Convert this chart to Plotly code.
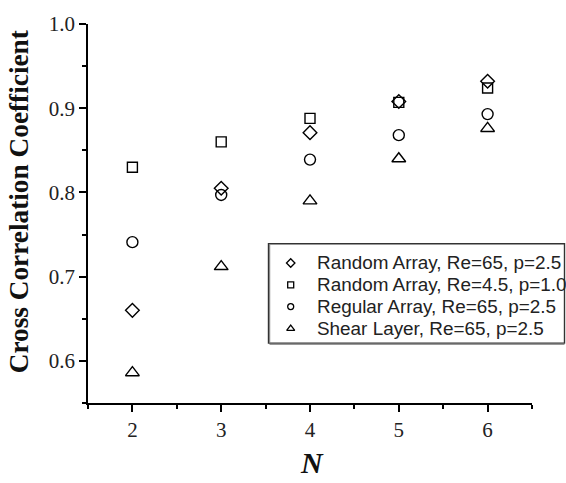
import plotly.graph_objects as go

# Number of sensors N and the cross correlation coefficient for each configuration
n_values = [2, 3, 4, 5, 6]
random_re65 = [0.660, 0.805, 0.871, 0.908, 0.932]
random_re45 = [0.830, 0.860, 0.888, 0.907, 0.924]
regular_re65 = [0.741, 0.797, 0.839, 0.868, 0.893]
shear_re65 = [0.586, 0.712, 0.790, 0.840, 0.876]

series_names = [
    "Random Array, Re=65, p=2.5",
    "Random Array, Re=4.5, p=1.0",
    "Regular Array, Re=65, p=2.5",
    "Shear Layer, Re=65, p=2.5",
]
series_values = [random_re65, random_re45, regular_re65, shear_re65]
symbols = ["diamond-open", "square-open", "circle-open", "triangle-up-open"]
plot_sizes = [10.5, 10, 11, 12]
legend_sizes = [6.5, 6, 6, 7]

serif = "Liberation Serif, Times New Roman, serif"
sans = "Liberation Sans, Arial, Helvetica, sans-serif"

W, H = 566, 483
ML, MR, MT, MB = 88, 34, 14, 80
PW, PH = W - ML - MR, H - MT - MB


def px(x):
    """Pixel column -> paper x."""
    return (x - ML) / PW


def py(y):
    """Pixel row -> paper y."""
    return (H - MB - y) / PH


fig = go.Figure()

for name, vals, sym, size in zip(series_names, series_values, symbols, plot_sizes):
    fig.add_trace(go.Scatter(
        x=n_values, y=vals, mode="markers", name=name, showlegend=False,
        marker=dict(symbol=sym, size=size, color="black", line=dict(width=1.4, color="black")),
    ))

# Boxed key in the lower right: frame, small symbols and labels
box_left, box_top, box_right, box_bottom = 268.5, 239.5, 564.5, 341.5
row_y = [259.3, 281.7, 304.0, 326.7]
key_x = 290.7
label_x = 315.0

fig.add_shape(type="rect", xref="paper", yref="paper",
              x0=px(box_left), x1=px(box_right), y0=py(box_bottom), y1=py(box_top),
              line=dict(color="#333", width=1.4), fillcolor="white", layer="below")
fig.add_shape(type="line", xref="paper", yref="paper",
              x0=px(box_left + 1), x1=px(box_right), y0=py(box_bottom + 1.2), y1=py(box_bottom + 1.2),
              line=dict(color="#777", width=1))
fig.add_shape(type="line", xref="paper", yref="paper",
              x0=px(box_left + 1.2), x1=px(box_left + 1.2), y0=py(box_bottom), y1=py(box_top + 1),
              line=dict(color="#777", width=1))

for name, sym, size, yy in zip(series_names, symbols, legend_sizes, row_y):
    fig.add_trace(go.Scatter(
        x=[px(key_x)], y=[py(yy)], mode="markers", showlegend=False, hoverinfo="skip",
        xaxis="x2", yaxis="y2",
        marker=dict(symbol=sym, size=size, color="black", line=dict(width=1.3, color="black")),
    ))
    fig.add_annotation(
        text=name, xref="paper", yref="paper", x=px(label_x), y=py(yy),
        xanchor="left", yanchor="middle", showarrow=False,
        font=dict(family=sans, size=18.9, color="#222"),
    )

axis_common = dict(
    showgrid=False, zeroline=False, showline=True, linecolor="black", linewidth=1.8,
    ticks="outside", ticklen=7, tickwidth=1.8, tickcolor="black",
    tickfont=dict(family=serif, size=21, color="#222"),
    minor=dict(ticks="outside", ticklen=4, tickwidth=1.5, tickcolor="black", showgrid=False),
)

fig.update_xaxes(range=[1.5, 6.5], tickmode="array", tickvals=[2, 3, 4, 5, 6],
                 minor_dtick=0.5, minor_tick0=1.5, **axis_common)
fig.update_yaxes(range=[0.55, 1.0], tickmode="array", tickvals=[0.6, 0.7, 0.8, 0.9, 1.0],
                 ticktext=["0.6", "0.7", "0.8", "0.9", "1.0"],
                 minor_dtick=0.05, minor_tick0=0.55, **axis_common)

fig.add_annotation(
    text="<b>Cross Correlation Coefficient</b>", textangle=-90,
    xref="paper", yref="paper", x=px(18.5), y=py(196.5), xanchor="center", yanchor="middle",
    showarrow=False, font=dict(family=serif, size=27.3, color="#111"),
)
fig.add_annotation(
    text="<b><i>N</i></b>",
    xref="paper", yref="paper", x=px(312), y=py(464), xanchor="center", yanchor="middle",
    showarrow=False, font=dict(family=serif, size=30, color="#111"),
)

fig.update_layout(
    width=W, height=H,
    margin=dict(l=ML, r=MR, t=MT, b=MB),
    paper_bgcolor="white", plot_bgcolor="white",
    showlegend=False,
    xaxis2=dict(overlaying="x", range=[0, 1], visible=False, domain=[0, 1]),
    yaxis2=dict(overlaying="y", range=[0, 1], visible=False, domain=[0, 1]),
)

fig.write_html("out.html")
